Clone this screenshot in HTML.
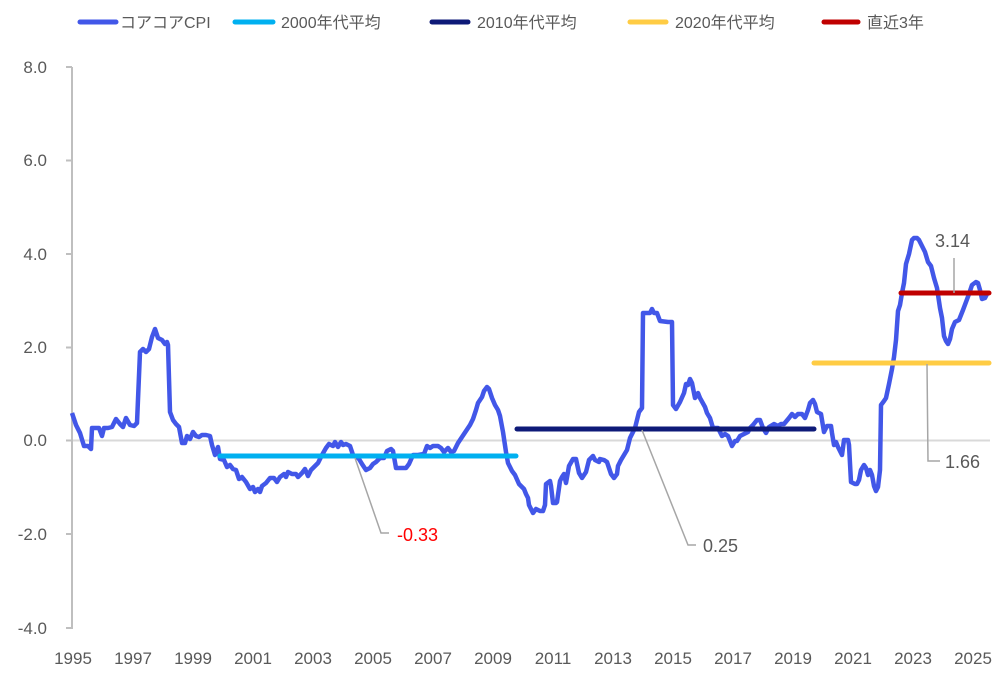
<!DOCTYPE html>
<html><head><meta charset="utf-8"><style>
body{margin:0;background:#fff;}
svg text{font-family:"Liberation Sans","Noto Sans CJK JP",sans-serif;fill:#595959;}
</style></head><body>
<svg width="1006" height="672" viewBox="0 0 1006 672">
<g stroke="#d9d9d9" stroke-width="2"><line x1="72" y1="440.5" x2="990" y2="440.5"/></g>
<g stroke="#bfbfbf" stroke-width="2"><line x1="72" y1="67" x2="72" y2="629"/>
<line x1="66" y1="67" x2="72" y2="67"/><line x1="66" y1="160.5" x2="72" y2="160.5"/><line x1="66" y1="254" x2="72" y2="254"/><line x1="66" y1="347.5" x2="72" y2="347.5"/><line x1="66" y1="440.5" x2="72" y2="440.5"/><line x1="66" y1="534" x2="72" y2="534"/><line x1="66" y1="628" x2="72" y2="628"/></g>
<g font-size="17" text-anchor="end">
<text x="47" y="73">8.0</text><text x="47" y="166">6.0</text><text x="47" y="260">4.0</text><text x="47" y="353">2.0</text><text x="47" y="446">0.0</text><text x="47" y="540">-2.0</text><text x="47" y="634">-4.0</text></g>
<g font-size="17" text-anchor="middle">
<text x="73" y="664">1995</text><text x="133" y="664">1997</text><text x="193" y="664">1999</text><text x="253" y="664">2001</text><text x="313" y="664">2003</text><text x="373" y="664">2005</text><text x="433" y="664">2007</text><text x="493" y="664">2009</text><text x="553" y="664">2011</text><text x="613" y="664">2013</text><text x="673" y="664">2015</text><text x="733" y="664">2017</text><text x="793" y="664">2019</text><text x="853" y="664">2021</text><text x="913" y="664">2023</text><text x="973" y="664">2025</text></g>
<polyline fill="none" stroke="#4257e8" stroke-width="4.5" stroke-linejoin="round" points="72,413 76,425 80,433 84,446 88,446 91,449 92,428 96,428 99,428 102,436 104,428 108,428 112,427 116,419 120,424 123,427 126,418 130,425 134,426 137,423 140,352 143,349 146,352 149,349 152,337 155,329 158,338 162,340 165,344 167,342 168,345 170,412 173,420 176,424 179,427 182,443 185,443 187,436 190,439 193,432 196,436 199,437 202,435 206,435 210,436 212,445 215,455 218,447 220,459 224,460 227,467 230,465 233,469 236,470 239,479 242,477 246,482 250,489 253,487 255,492 258,489 260,492 262,486 266,483 270,478 274,478 277,482 280,477 284,474 286,477 288,472 292,474 296,474 298,477 302,473 305,469 308,476 311,470 315,466 318,463 322,455 326,448 329,444 333,446 335,442 338,447 341,442 343,445 346,444 350,446 353,455 357,457 359,459 362,464 366,470 370,468 373,464 376,462 380,458 384,458 387,451 391,449 393,451 396,468 402,468 406,468 409,464 413,455 418,455 424,454 427,446 430,448 433,446 438,446 441,448 444,452 448,448 451,452 454,451 458,443 462,437 466,431 470,425 473,419 476,410 478,403 482,397 484,391 487,387 489,389 492,398 495,405 498,410 500,416 503,432 506,452 508,463 512,471 515,475 519,484 521,486 524,489 526,494 528,498 529,505 533,513 536,509 540,511 543,511 545,505 546,484 550,481 551,486 553,503 556,503 557,502 560,481 562,477 564,474 566,483 569,466 573,459 576,459 579,473 582,478 586,472 589,460 593,456 595,460 599,462 600,459 604,460 607,462 611,474 614,478 617,474 618,466 621,460 624,455 627,450 630,438 633,432 635,428 639,412 642,408 643,313 647,313 650,313 652,309 654,313 657,313 660,321 668,322 672,322 673,405 676,409 680,402 684,393 686,384 688,385 690,379 692,383 695,398 698,393 700,398 705,407 707,413 710,418 713,428 716,428 718,428 722,436 725,434 728,436 730,441 732,446 735,441 737,441 740,436 744,434 748,432 750,428 753,425 757,420 760,420 763,428 766,433 769,427 774,424 778,426 781,424 784,424 789,418 792,414 795,417 798,414 802,414 805,418 808,410 810,403 813,400 815,404 817,412 821,414 823,426 824,432 827,426 831,426 832,433 834,445 836,442 838,447 842,455 844,440 848,440 849,445 851,482 855,484 857,484 859,480 861,470 864,465 866,468 868,475 870,470 872,475 874,486 876,491 878,487 880,470 881,405 884,401 886,398 889,384 892,369 894,357 896,340 898,311 900,305 902,293 904,283 906,264 909,254 912,240 914,238 917,238 919,240 922,246 925,252 928,262 931,266 934,278 937,288 940,308 942,318 944,336 946,341 948,344 950,339 952,329 955,322 959,320 963,310 966,302 969,294 972,285 976,282 978,283 980,290 982,299 985,298 988,292"/>
<g stroke-width="5" stroke-linecap="round">
<line x1="220" y1="456" x2="516" y2="456" stroke="#00b0f0"/>
<line x1="517" y1="429" x2="814" y2="429" stroke="#0e1a78"/>
<line x1="814" y1="363" x2="989" y2="363" stroke="#ffcc44"/>
<line x1="901" y1="293" x2="989" y2="293" stroke="#c00000"/></g>
<g fill="none" stroke="#a6a6a6" stroke-width="1.5">
<polyline points="355,458 381,533 389,533"/>
<polyline points="642,430 688,545 696,545"/>
<polyline points="927,364 928,461 940,461"/>
<polyline points="954,258 954,293"/></g>
<g font-size="18"><text x="397" y="541" style="fill:#ff0000">-0.33</text><text x="703" y="552">0.25</text><text x="945" y="468">1.66</text><text x="935" y="247">3.14</text></g>
<g stroke-width="5" stroke-linecap="round">
<line x1="80" y1="22" x2="116" y2="22" stroke="#4257e8"/>
<line x1="235" y1="22" x2="273" y2="22" stroke="#00b0f0"/>
<line x1="432" y1="22" x2="468" y2="22" stroke="#0e1a78"/>
<line x1="630" y1="22" x2="666" y2="22" stroke="#ffcc44"/>
<line x1="824" y1="22" x2="858" y2="22" stroke="#c00000"/></g>
<g font-size="16"><text x="120" y="28">コアコアCPI</text><text x="281" y="28">2000年代平均</text><text x="477" y="28">2010年代平均</text><text x="675" y="28">2020年代平均</text><text x="867" y="28">直近3年</text></g>
</svg></body></html>
